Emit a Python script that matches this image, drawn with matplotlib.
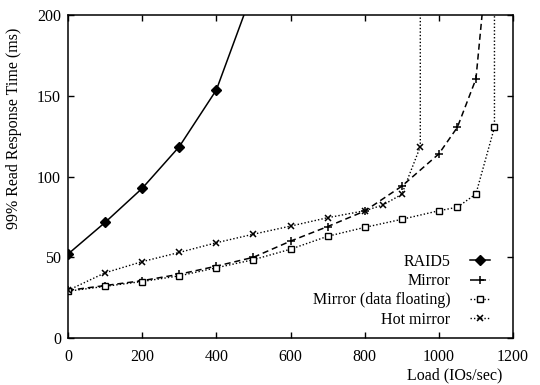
import matplotlib
matplotlib.use("Agg")
import matplotlib.pyplot as plt

plt.rcParams["font.family"] = ["Liberation Serif", "DejaVu Serif"]
plt.rcParams["font.size"] = 11.5

# Load (IOs/sec) vs 99% read response time (ms)
raid5_x = [0, 100, 200, 300, 400, 500]
raid5_y = [52, 71.6, 92.7, 118.5, 153.6, 216]

mirror_x = [0, 100, 200, 300, 400, 500, 600, 700, 800, 900, 1000, 1050, 1100, 1150]
mirror_y = [29.5, 32.5, 35.5, 39.5, 44.5, 50, 60, 69, 78.6, 94, 114, 130.5, 160.4, 280]

float_x = [0, 100, 200, 300, 400, 500, 600, 700, 800, 900, 1000, 1050, 1100, 1150, 1150]
float_y = [29, 32, 35, 38.5, 43.5, 48.5, 55, 63, 68.5, 73.5, 78.8, 81, 89.2, 130.5, 400]

hot_x = [0, 100, 200, 300, 400, 500, 600, 700, 800, 850, 900, 950, 950]
hot_y = [29.5, 40.4, 47.3, 53, 59, 64.3, 69.3, 74.5, 78.8, 82.4, 89, 118.5, 400]

fig = plt.figure(figsize=(5.4, 3.85), dpi=100)
ax = fig.add_axes([0.126, 0.122, 0.824, 0.839])

ax.plot(raid5_x, raid5_y, color="black", lw=1.1, marker="D", ms=5.5,
        mfc="black", mec="black", label="RAID5")
ax.plot(mirror_x, mirror_y, color="black", lw=1.1, ls=(0, (4, 2.5)), marker="+",
        ms=6, mew=1.1, label="Mirror")
ax.plot(float_x, float_y, color="black", lw=1.0, ls=(0, (1, 1.5)), marker="s",
        ms=4.5, mfc="white", mec="black", mew=1.0, label="Mirror (data floating)")
ax.plot(hot_x, hot_y, color="black", lw=1.0, ls=(0, (1, 1.5)), marker="x",
        ms=5, mew=1.1, label="Hot mirror")

ax.set_xlim(0, 1200)
ax.set_ylim(0, 200)
ax.set_xticks(range(0, 1201, 200))
ax.set_yticks(range(0, 201, 50))
ax.tick_params(direction="in", length=4, width=1, top=True, right=True, pad=5)
ax.tick_params(axis="x", pad=8)
for s in ax.spines.values():
    s.set_linewidth(1.1)

ax.set_ylabel("99% Read Response Time (ms)")
ax.yaxis.set_label_coords(-0.103, 0.65)
ax.set_xlabel("Load (IOs/sec)")
ax.xaxis.set_label_coords(0.868, -0.09)

ax.legend(loc="upper right", bbox_to_anchor=(0.967, 0.285), frameon=False,
          markerfirst=False, handlelength=1.3, handletextpad=1.2,
          labelspacing=0.2, borderpad=0, numpoints=1)

fig.savefig("out.png", dpi=100)
